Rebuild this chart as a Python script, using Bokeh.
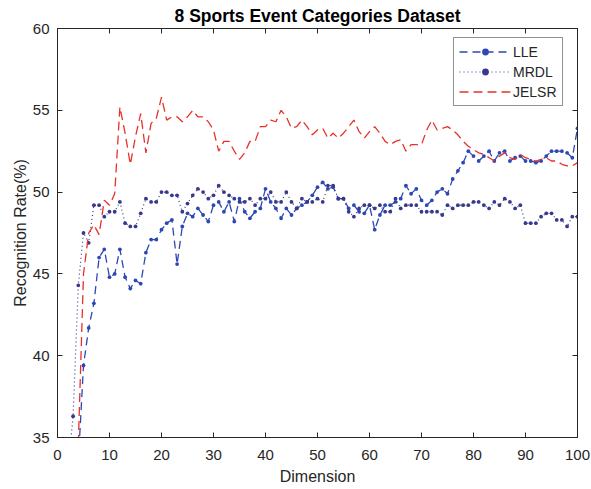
from bokeh.plotting import figure
from bokeh.models import Range1d, FixedTicker, Legend, LegendItem, LinearAxis
from bokeh.embed import file_html
from bokeh.resources import INLINE

title_text = "8 Sports Event Categories Dataset"
x_label = "Dimension"
y_label = "Recognition Rate(%)"
x_ticks = [0, 10, 20, 30, 40, 50, 60, 70, 80, 90, 100]
y_ticks = [35, 40, 45, 50, 55, 60]

lle_dims = list(range(4, 101))
lle_vals = [33.5, 39.4, 41.7, 43.2, 46.0, 46.5, 44.8, 45.0, 46.5, 44.8,
            44.1, 44.6, 44.4, 46.3, 47.1, 47.1, 47.7, 48.1, 48.3, 45.6,
            47.9, 48.7, 48.5, 49.0, 48.6, 48.2, 49.2, 49.4, 48.8, 49.4,
            48.2, 49.6, 48.8, 48.4, 48.8, 49.0, 50.2, 49.4, 49.0, 48.4,
            49.0, 48.6, 49.0, 49.2, 49.4, 49.8, 50.3, 50.6, 50.2, 50.3,
            49.6, 49.6, 49.0, 49.2, 48.8, 48.7, 49.2, 47.7, 48.6, 49.2,
            49.2, 49.4, 49.6, 50.4, 49.9, 50.2, 49.5, 49.2, 49.5, 50.0,
            50.2, 49.9, 50.8, 51.3, 51.8, 52.5, 52.2, 51.9, 52.2, 52.5,
            51.9, 52.4, 52.5, 51.9, 52.1, 52.2, 51.9, 51.9, 51.8, 51.9,
            52.2, 52.5, 52.5, 52.5, 52.4, 52.1, 53.9]

mrdl_dims = list(range(2, 101))
mrdl_vals = [33.0, 36.3, 44.3, 47.5, 46.9, 49.2, 49.2, 48.5, 48.8, 48.8,
             49.4, 48.1, 47.9, 47.9, 48.7, 49.6, 49.4, 49.4, 50.0, 50.0,
             49.8, 49.8, 48.8, 49.3, 49.8, 50.2, 50.0, 49.6, 49.8, 50.4,
             50.0, 49.8, 49.6, 49.4, 49.4, 49.6, 49.2, 49.6, 49.6, 50.0,
             49.4, 49.4, 50.0, 49.4, 49.0, 49.6, 49.4, 49.4, 49.6, 49.4,
             50.4, 50.4, 49.6, 49.6, 48.8, 48.5, 49.0, 49.2, 49.2, 49.0,
             49.2, 48.8, 48.8, 49.6, 49.0, 49.2, 49.2, 49.2, 48.8, 48.8,
             48.8, 48.8, 48.6, 49.2, 49.0, 49.2, 49.2, 49.2, 49.4, 49.4,
             49.2, 49.0, 49.4, 49.2, 49.6, 49.4, 49.0, 49.2, 48.1, 48.1,
             48.1, 48.5, 48.7, 48.7, 48.3, 48.3, 47.9, 48.5, 48.5]

jelsr_dims = list(range(4, 101))
jelsr_vals = [34.6, 45.0, 47.5, 48.0, 47.4, 49.5, 49.2, 49.9, 55.2, 53.6,
              51.7, 53.4, 54.8, 52.4, 54.2, 54.5, 55.8, 54.4, 54.6, 54.6,
              54.3, 54.6, 55.0, 54.6, 54.6, 54.3, 53.8, 52.5, 53.1, 53.1,
              52.5, 52.0, 52.4, 53.1, 53.1, 54.0, 54.0, 54.4, 54.3, 55.0,
              54.6, 53.9, 54.0, 54.4, 54.0, 53.5, 53.8, 53.9, 53.3, 53.6,
              53.3, 53.6, 54.0, 54.4, 53.7, 53.3, 53.7, 54.0, 53.6, 53.1,
              52.9, 53.1, 53.2, 52.5, 52.9, 52.9, 52.9, 53.8, 54.4, 53.8,
              53.9, 54.0, 53.8, 53.5, 53.1, 52.8, 52.6, 52.4, 52.3, 52.1,
              51.9, 52.2, 52.4, 52.1, 52.0, 52.3, 52.1, 52.0, 51.9, 52.0,
              52.1, 51.9, 51.9, 51.7, 51.6, 51.6, 51.8]

FONT = "Liberation Sans"
AX = "#262626"
C_LLE = "#2c48b4"
C_MRDL = "#38388c"
C_JELSR = "#e8302a"

p = figure(width=591, height=489, output_backend="svg", toolbar_location=None,
           x_range=Range1d(0, 100), y_range=Range1d(35, 60),
           title=title_text,
           min_border_left=57, min_border_right=14, min_border_top=27,
           min_border_bottom=52)
p.background_fill_color = "white"
p.border_fill_color = "white"
p.outline_line_color = AX
p.xgrid.visible = False
p.ygrid.visible = False

p.title.align = "center"
p.title.text_font = FONT
p.title.text_font_size = "17.5px"
p.title.text_font_style = "bold"
p.title.text_color = "black"
p.title.standoff = 6
p.title.offset = 0

def style_axis(ax, ticks, label_standoff=8, axis_label_standoff=5, labels=True):
    ax.ticker = FixedTicker(ticks=ticks)
    ax.axis_line_color = AX
    ax.major_tick_line_color = AX
    ax.major_tick_in = 5
    ax.major_tick_out = 0
    ax.minor_tick_line_color = None
    if labels:
        ax.major_label_text_font = FONT
        ax.major_label_text_font_size = "15px"
        ax.major_label_text_color = AX
        ax.major_label_standoff = label_standoff
        ax.axis_label_text_font = FONT
        ax.axis_label_text_font_size = "16px"
        ax.axis_label_text_font_style = "normal"
        ax.axis_label_text_color = AX
        ax.axis_label_standoff = axis_label_standoff
    else:
        ax.major_label_text_font_size = "1px"
        ax.major_label_text_color = None
        ax.major_label_standoff = 0

style_axis(p.xaxis[0], x_ticks, 12, 5)
style_axis(p.yaxis[0], y_ticks, 8, 1)
p.xaxis[0].axis_label = x_label
p.yaxis[0].axis_label = y_label

# box axes with inward ticks on top and right (no labels)
top_ax = LinearAxis()
style_axis(top_ax, x_ticks, labels=False)
p.add_layout(top_ax, "above")
right_ax = LinearAxis()
style_axis(right_ax, y_ticks, labels=False)
p.add_layout(right_ax, "right")

r_lle_l = p.line(lle_dims, lle_vals, line_color=C_LLE, line_width=1.3, line_dash="8 5")
r_lle_m = p.scatter(lle_dims, lle_vals, marker="circle", size=3.8,
                    fill_color=C_LLE, line_color=None)
r_mrdl_l = p.line(mrdl_dims, mrdl_vals, line_color=C_MRDL, line_width=1.2, line_dash="1 3")
r_mrdl_m = p.scatter(mrdl_dims, mrdl_vals, marker="circle", size=3.8,
                     fill_color=C_MRDL, line_color=None)
r_jelsr = p.line(jelsr_dims, jelsr_vals, line_color=C_JELSR, line_width=1.3, line_dash="9 5")

legend = Legend(items=[
    LegendItem(label="LLE", renderers=[r_lle_l, r_lle_m]),
    LegendItem(label="MRDL", renderers=[r_mrdl_l, r_mrdl_m]),
    LegendItem(label="JELSR", renderers=[r_jelsr]),
])
legend.location = (396, 331)
legend.border_line_color = AX
legend.border_line_width = 1
legend.background_fill_color = "white"
legend.background_fill_alpha = 1
legend.label_text_font = FONT
legend.label_text_font_size = "14px"
legend.label_text_color = AX
legend.glyph_width = 52
legend.glyph_height = 17
legend.label_height = 17
legend.label_standoff = 2
legend.spacing = 3
legend.padding = 5
legend.margin = 0
p.add_layout(legend, "center")

open("out.html", "w").write(file_html(p, INLINE))
